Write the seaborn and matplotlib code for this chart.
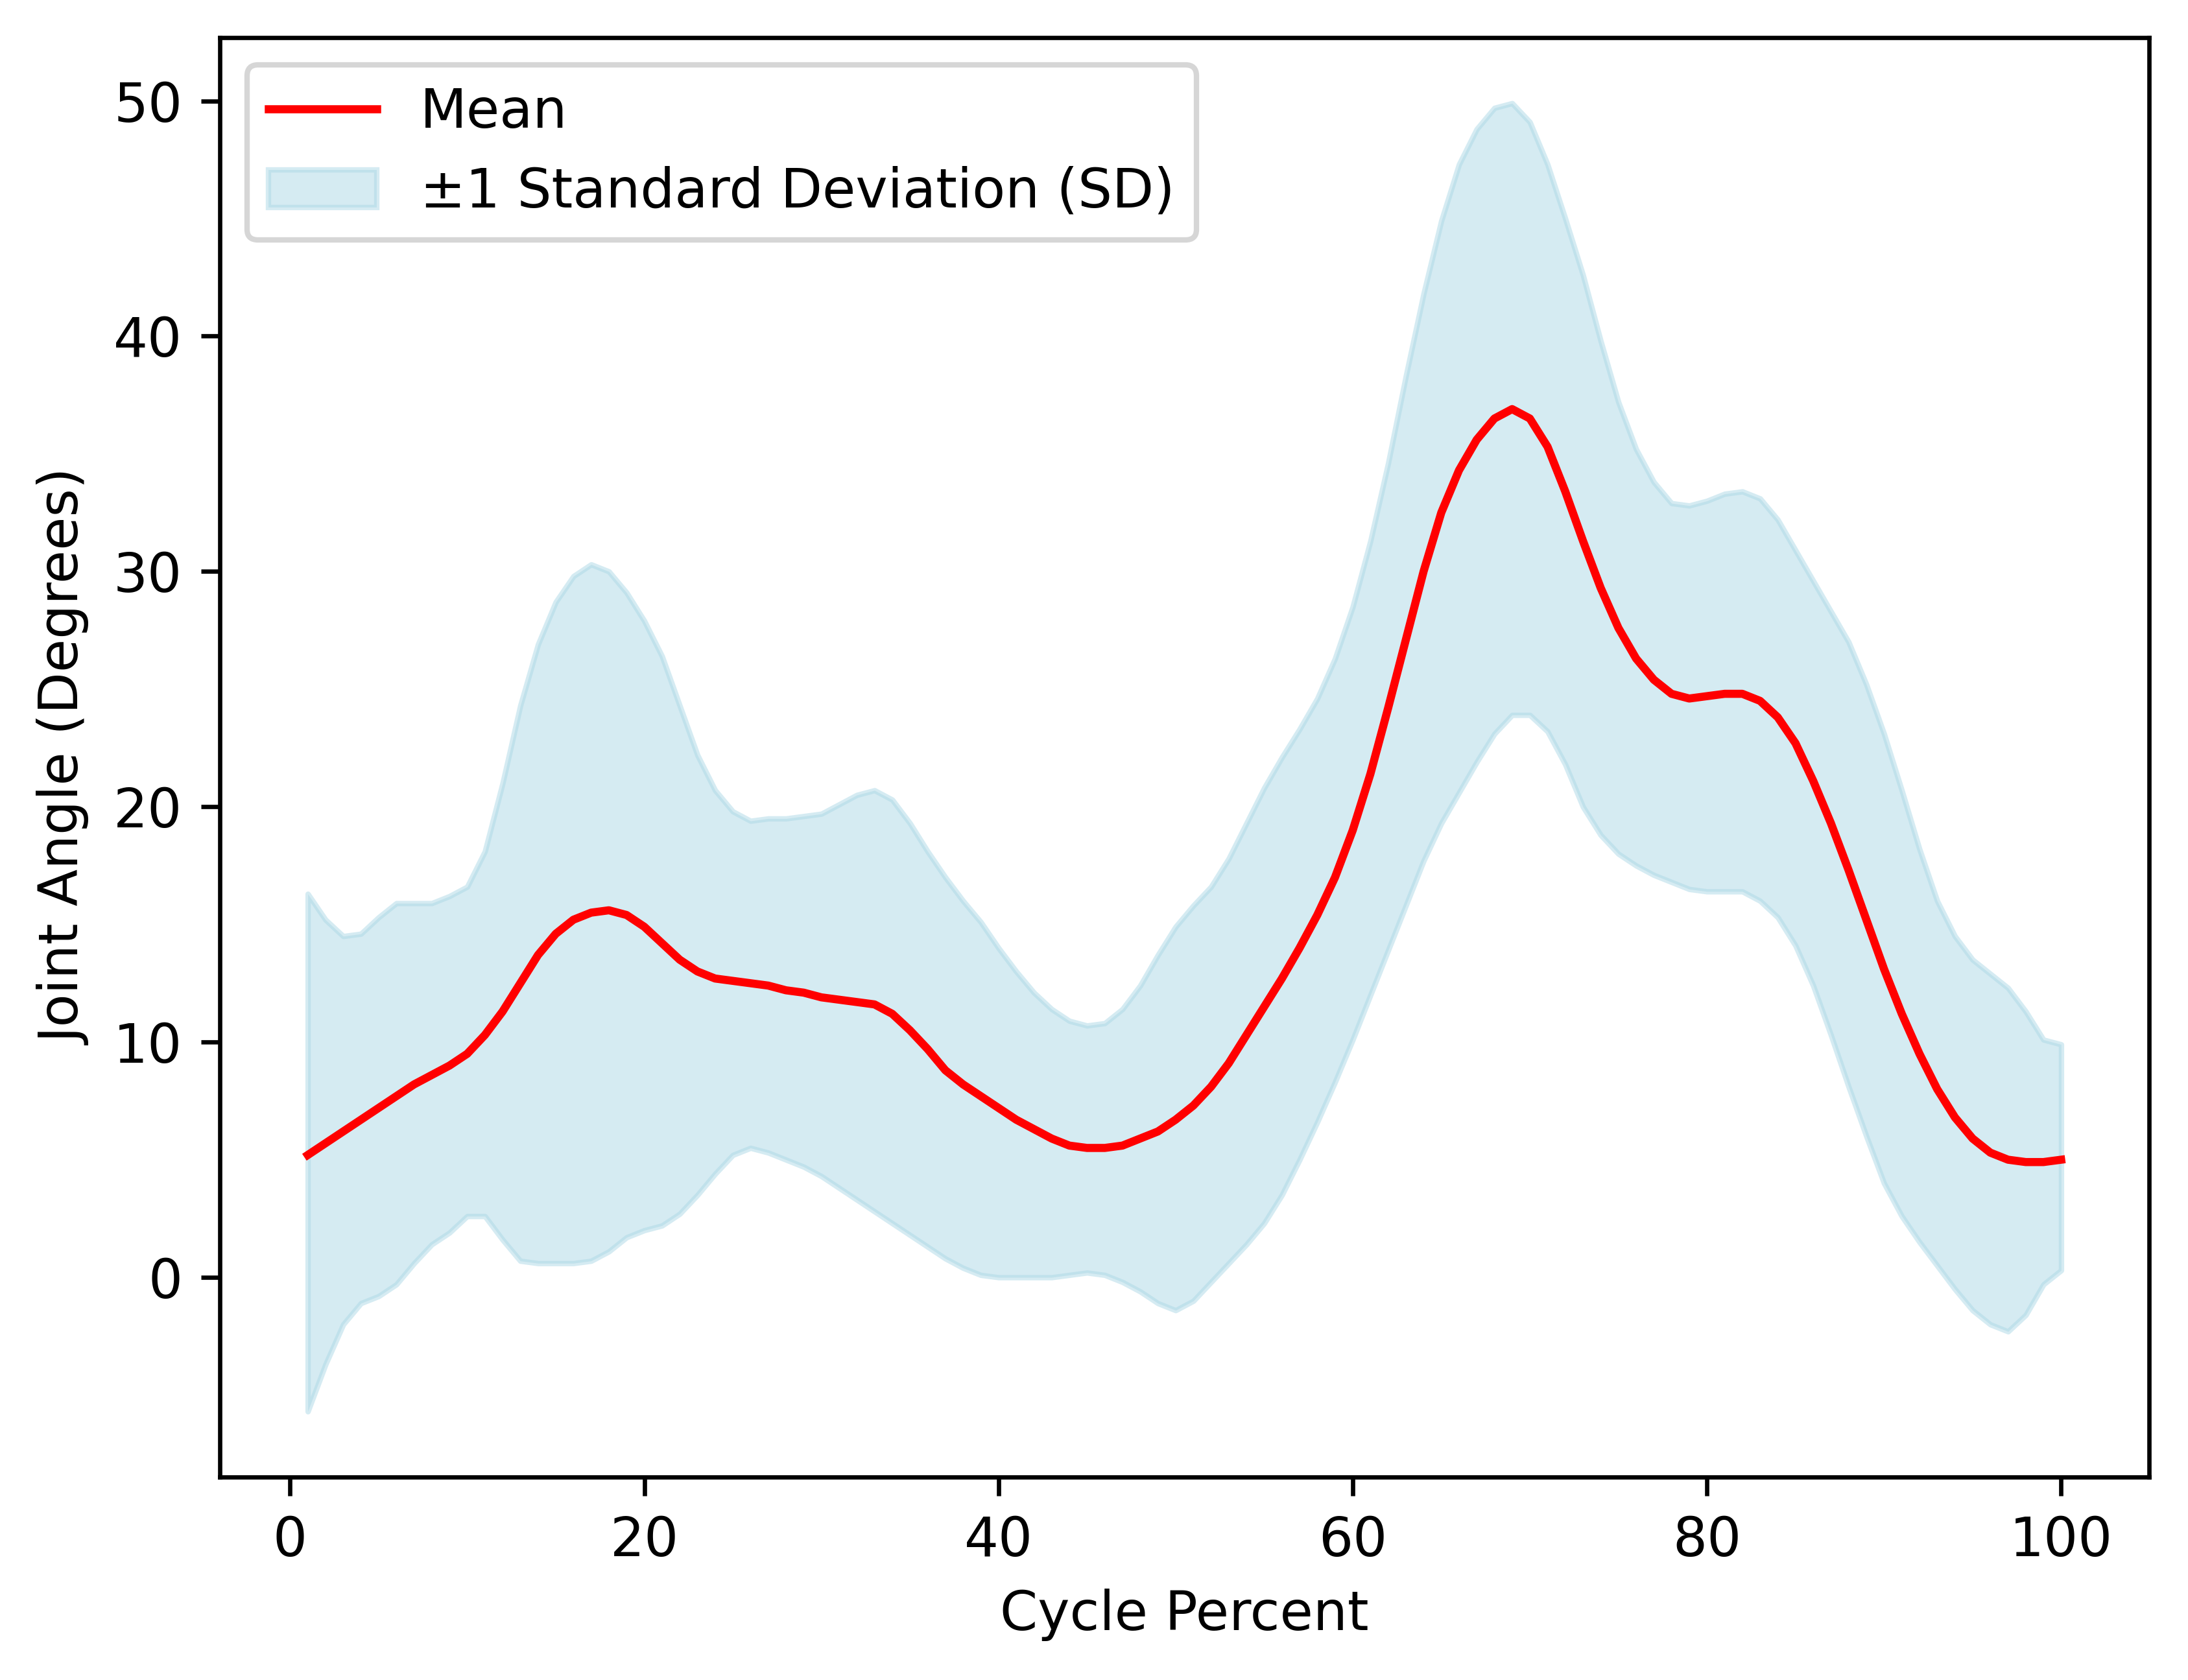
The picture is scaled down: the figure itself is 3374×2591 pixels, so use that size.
import numpy as np
import pandas as pd
import matplotlib
matplotlib.use('Agg')
import matplotlib.pyplot as plt
import seaborn as sns

# Cycle percent (1..100)
cycle_percent = list(range(1, 101))

# Mean joint angle
mean_angle = [
    5.2, 5.7, 6.2, 6.7, 7.2, 7.7, 8.2, 8.6, 9.0, 9.5,
    10.3, 11.3, 12.5, 13.7, 14.6, 15.2, 15.5, 15.6, 15.4, 14.9,
    14.2, 13.5, 13.0, 12.7, 12.6, 12.5, 12.4, 12.2, 12.1, 11.9,
    11.8, 11.7, 11.6, 11.2, 10.5, 9.7, 8.8, 8.2, 7.7, 7.2,
    6.7, 6.3, 5.9, 5.6, 5.5, 5.5, 5.6, 5.9, 6.2, 6.7,
    7.3, 8.1, 9.1, 10.3, 11.5, 12.7, 14.0, 15.4, 17.0, 19.0,
    21.4, 24.2, 27.1, 30.0, 32.5, 34.3, 35.6, 36.5, 36.9, 36.5,
    35.3, 33.4, 31.3, 29.3, 27.6, 26.3, 25.4, 24.8, 24.6, 24.7,
    24.8, 24.8, 24.5, 23.8, 22.7, 21.1, 19.3, 17.3, 15.2, 13.1,
    11.2, 9.5, 8.0, 6.8, 5.9, 5.3, 5.0, 4.9, 4.9, 5.0,
]

# Upper edge of the +/-1 SD band
upper_sd = [
    16.3, 15.2, 14.5, 14.6, 15.3, 15.9, 15.9, 15.9, 16.2, 16.6,
    18.1, 21.0, 24.3, 26.9, 28.7, 29.8, 30.3, 30.0, 29.1, 27.9,
    26.4, 24.3, 22.2, 20.7, 19.8, 19.4, 19.5, 19.5, 19.6, 19.7,
    20.1, 20.5, 20.7, 20.3, 19.3, 18.1, 17.0, 16.0, 15.1, 14.0,
    13.0, 12.1, 11.4, 10.9, 10.7, 10.8, 11.4, 12.4, 13.7, 14.9,
    15.8, 16.6, 17.8, 19.3, 20.8, 22.1, 23.3, 24.6, 26.3, 28.5,
    31.3, 34.6, 38.3, 41.8, 44.9, 47.3, 48.8, 49.7, 49.9, 49.1,
    47.3, 45.0, 42.6, 39.8, 37.2, 35.2, 33.8, 32.9, 32.8, 33.0,
    33.3, 33.4, 33.1, 32.2, 30.9, 29.6, 28.3, 27.0, 25.2, 23.1,
    20.7, 18.2, 16.0, 14.5, 13.5, 12.9, 12.3, 11.3, 10.1, 9.9,
]

# Lower edge of the +/-1 SD band
lower_sd = [
    -5.7, -3.7, -2.0, -1.1, -0.8, -0.3, 0.6, 1.4, 1.9, 2.6,
    2.6, 1.6, 0.7, 0.6, 0.6, 0.6, 0.7, 1.1, 1.7, 2.0,
    2.2, 2.7, 3.5, 4.4, 5.2, 5.5, 5.3, 5.0, 4.7, 4.3,
    3.8, 3.3, 2.8, 2.3, 1.8, 1.3, 0.8, 0.4, 0.1, 0.0,
    0.0, 0.0, 0.0, 0.1, 0.2, 0.1, -0.2, -0.6, -1.1, -1.4,
    -1.0, -0.2, 0.6, 1.4, 2.3, 3.5, 5.0, 6.6, 8.3, 10.1,
    12.0, 13.9, 15.8, 17.7, 19.3, 20.6, 21.9, 23.1, 23.9, 23.9,
    23.2, 21.8, 20.0, 18.8, 18.0, 17.5, 17.1, 16.8, 16.5, 16.4,
    16.4, 16.4, 16.0, 15.3, 14.1, 12.4, 10.3, 8.1, 6.0, 4.0,
    2.6, 1.5, 0.5, -0.5, -1.4, -2.0, -2.3, -1.6, -0.3, 0.3,
]

df = pd.DataFrame({'Cycle Percent': cycle_percent, 'Mean': mean_angle,
                   'Upper': upper_sd, 'Lower': lower_sd})

fig = plt.figure(figsize=(3374 / 600, 2591 / 600), dpi=600)
ax = fig.add_axes([0.1006, 0.1209, 0.8815, 0.8566])

# Mean curve
sns.lineplot(data=df, x='Cycle Percent', y='Mean', color='red', label='Mean', ax=ax)

# +/- 1 SD band
ax.fill_between(df['Cycle Percent'], df['Lower'], df['Upper'], color='lightblue',
                alpha=0.5, label='±1 Standard Deviation (SD)')

ax.set_xlabel('Cycle Percent')
ax.set_ylabel('Joint Angle (Degrees)')
ax.legend(loc='upper left')

fig.savefig('out.png', dpi=600)
